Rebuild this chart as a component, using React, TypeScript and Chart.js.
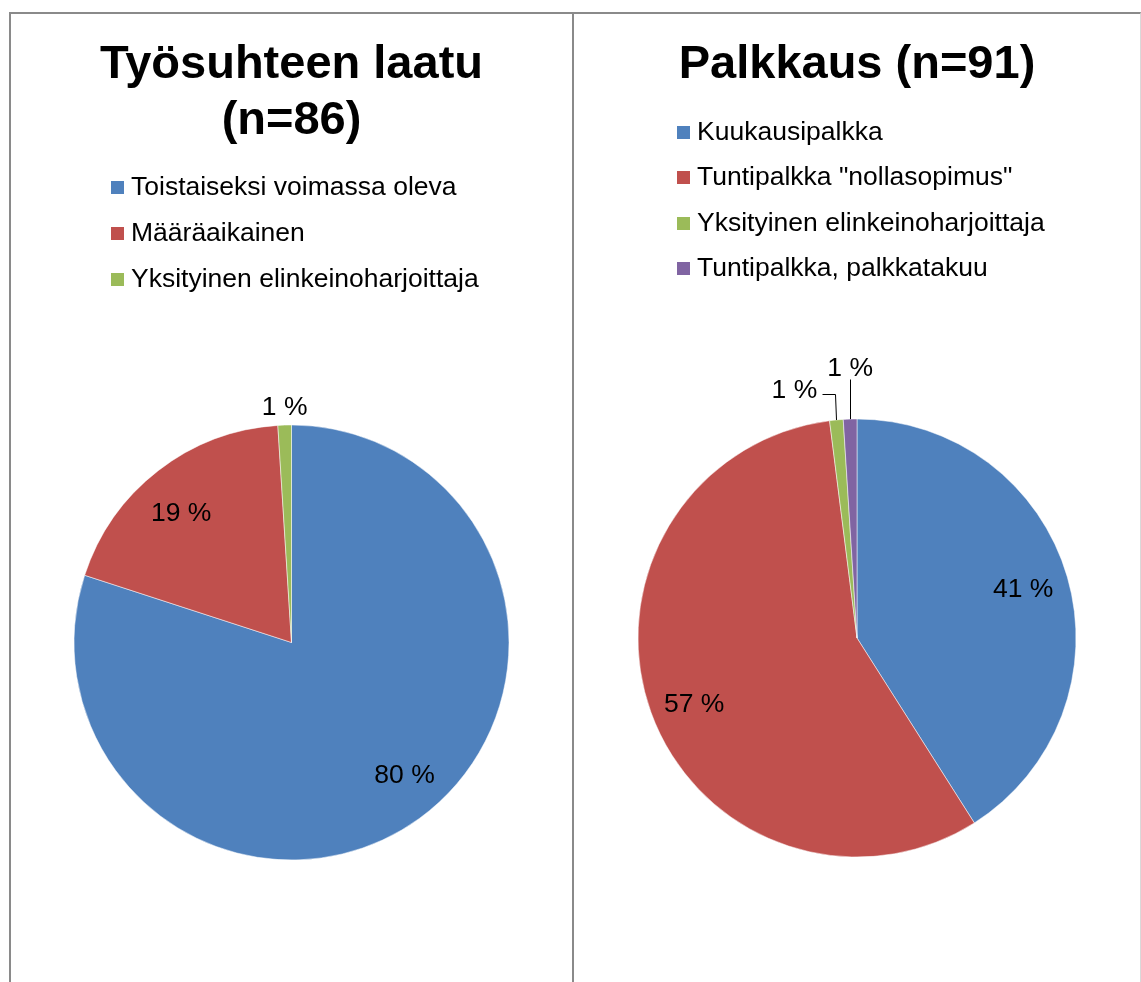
import React, { useEffect, useRef } from "react";
import { Chart, registerables } from "chart.js";

Chart.register(...registerables);

const FONT = "'Liberation Sans', Arial, Helvetica, sans-serif";

// ---- data ----
const leftTitle = ["Työsuhteen laatu", "(n=86)"];
const leftLabels = [
  "Toistaiseksi voimassa oleva",
  "Määräaikainen",
  "Yksityinen elinkeinoharjoittaja",
];
const leftValues = [80, 19, 1];

const rightTitle = ["Palkkaus (n=91)"];
const rightLabels = [
  "Kuukausipalkka",
  'Tuntipalkka "nollasopimus"',
  "Yksityinen elinkeinoharjoittaja",
  "Tuntipalkka, palkkatakuu",
];
const rightValues = [41, 57, 1, 1];

const sliceColors = ["#4F81BD", "#C0504D", "#9BBB59", "#8064A2"];

// ---- layout / style (kept apart from data) ----
type Callout = { dx: number; dy: number; leader?: [number, number][] };
type PanelStyle = {
  left: number;
  top: number;
  width: number;
  height: number;
  radius: number;
  titlePadTop: number;
  titlePadBottom: number;
  legendBaseline: number;
  legendStep: number;
  legendShift: number;
  callouts: Record<number, Callout>;
  nudges: Record<number, [number, number]>;
};

const leftStyle: PanelStyle = {
  left: 11,
  top: 14,
  width: 561,
  height: 968,
  radius: 217.5,
  titlePadTop: 23,
  titlePadBottom: 154,
  legendBaseline: 181,
  legendStep: 46,
  legendShift: 3,
  callouts: { 2: { dx: 0, dy: -17 } },
  nudges: { 0: [12, -6], 1: [-5, 7] },
};

const rightStyle: PanelStyle = {
  left: 574,
  top: 14,
  width: 566,
  height: 968,
  radius: 219,
  titlePadTop: 23,
  titlePadBottom: 201,
  legendBaseline: 125.5,
  legendStep: 45.5,
  legendShift: 4,
  callouts: {
    2: { dx: -42, dy: -29, leader: [[-1, -26], [-14, -26]] },
    3: { dx: 0, dy: -50, leader: [[0, -40]] },
  },
  nudges: { 1: [0, 8] },
};

const decorPlugin = {
  id: "decor",
  afterDatasetsDraw(chart: any, _args: any, opts: any) {
    const ctx: CanvasRenderingContext2D = chart.ctx;
    const meta = chart.getDatasetMeta(0);
    const data = chart.data.datasets[0].data as number[];
    const colors = chart.data.datasets[0].backgroundColor as string[];
    ctx.save();
    ctx.font = `26.5px ${FONT}`;
    ctx.fillStyle = "#000";
    ctx.textAlign = "center";
    ctx.textBaseline = "middle";
    meta.data.forEach((el: any, i: number) => {
      const { x, y, startAngle, endAngle, outerRadius } = el.getProps(
        ["x", "y", "startAngle", "endAngle", "outerRadius"],
        true
      );
      const mid = (startAngle + endAngle) / 2;
      const text = `${data[i]} %`;
      const call: Callout | undefined = opts.callouts?.[i];
      if (call) {
        const ax = x + Math.cos(mid) * outerRadius;
        const ay = y + Math.sin(mid) * outerRadius;
        if (call.leader) {
          ctx.beginPath();
          ctx.moveTo(Math.round(ax) + 0.5, ay);
          call.leader.forEach(([dx, dy]) =>
            ctx.lineTo(Math.round(ax + dx) + 0.5, Math.round(ay + dy) + 0.5)
          );
          ctx.strokeStyle = "#000";
          ctx.lineWidth = 1;
          ctx.stroke();
        }
        ctx.fillText(text, ax + call.dx, ay + call.dy);
      } else {
        const r = outerRadius * 0.79;
        const [nx, ny] = opts.nudges?.[i] || [0, 0];
        ctx.fillText(text, x + Math.cos(mid) * r + nx, y + Math.sin(mid) * r + ny);
      }
    });

    // legend
    const labels = chart.data.labels as string[];
    ctx.textAlign = "left";
    ctx.textBaseline = "alphabetic";
    const maxW = Math.max(...labels.map((l) => ctx.measureText(l).width));
    const box = 13;
    const gap = 7;
    const blockW = box + gap + maxW;
    const x0 = Math.round(chart.width / 2 - blockW / 2) + (opts.legendShift || 0);
    labels.forEach((l, i) => {
      const by = opts.legendBaseline + i * opts.legendStep;
      ctx.fillStyle = colors[i];
      ctx.fillRect(x0, Math.round(by - 14), box, box);
      ctx.fillStyle = "#000";
      ctx.fillText(l, x0 + box + gap, by);
    });
    ctx.restore();
  },
};

function PiePanel(props: {
  title: string[];
  labels: string[];
  values: number[];
  s: PanelStyle;
}) {
  const { title, labels, values, s } = props;
  const ref = useRef<HTMLCanvasElement>(null);
  useEffect(() => {
    const chart = new Chart(ref.current as HTMLCanvasElement, {
      type: "pie",
      data: {
        labels,
        datasets: [
          {
            data: values,
            backgroundColor: sliceColors.slice(0, values.length),
            borderColor: "#ffffff",
            borderWidth: 0.5,
          },
        ],
      },
      options: {
        responsive: false,
        animation: false,
        radius: s.radius,
        layout: { padding: 0 },
        plugins: {
          legend: { display: false },
          tooltip: { enabled: false },
          title: {
            display: true,
            text: title,
            color: "#000",
            font: { family: FONT, size: 47, weight: "bold", lineHeight: 56 / 47 },
            padding: { top: s.titlePadTop, bottom: s.titlePadBottom },
          },
          decor: {
            callouts: s.callouts,
            nudges: s.nudges,
            legendBaseline: s.legendBaseline,
            legendStep: s.legendStep,
            legendShift: s.legendShift,
          },
        },
      } as any,
      plugins: [decorPlugin],
    });
    return () => chart.destroy();
  }, []);
  return (
    <canvas
      ref={ref}
      width={s.width}
      height={s.height}
      style={{
        position: "absolute",
        left: s.left,
        top: s.top,
        width: s.width,
        height: s.height,
      }}
    />
  );
}

export default function App() {
  return (
    <div>
      <div
        style={{
          position: "absolute",
          left: 9,
          top: 12,
          width: 1132,
          height: 970,
          boxSizing: "border-box",
          borderTop: "2px solid #8a8a8a",
          borderLeft: "2px solid #8a8a8a",
          borderRight: "1px solid #d9d9d9",
          background: "#fff",
        }}
      />
      <div
        style={{
          position: "absolute",
          left: 572,
          top: 12,
          width: 2,
          height: 970,
          background: "#8a8a8a",
        }}
      />
      <PiePanel title={leftTitle} labels={leftLabels} values={leftValues} s={leftStyle} />
      <PiePanel title={rightTitle} labels={rightLabels} values={rightValues} s={rightStyle} />
    </div>
  );
}
